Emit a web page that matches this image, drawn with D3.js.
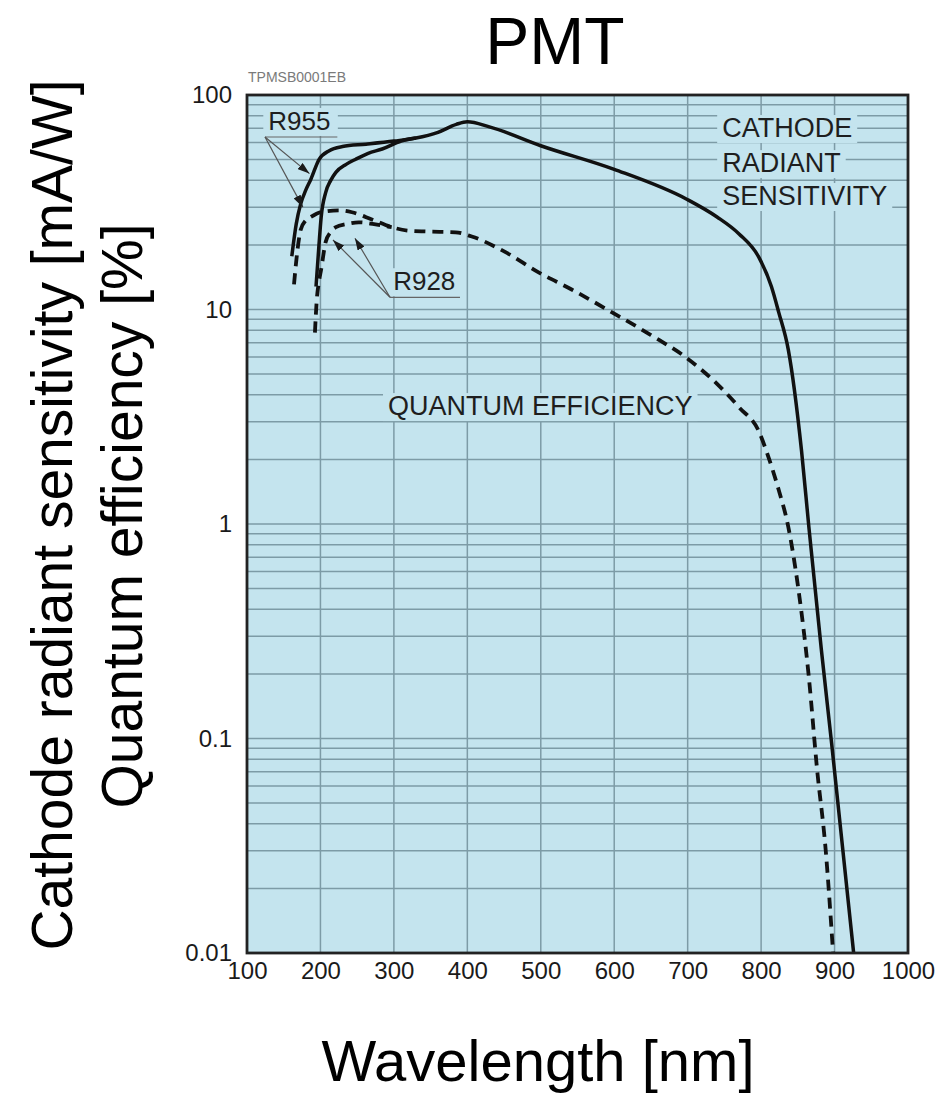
<!DOCTYPE html>
<html>
<head>
<meta charset="utf-8">
<script src="https://cdn.jsdelivr.net/npm/d3@7"></script>
<style>
  body { margin: 0; background: #fff; }
  svg { display: block; font-family: "Liberation Sans", Arial, Helvetica, sans-serif; }
</style>
</head>
<body>
<script>
// Chart data
const wavelengthTicks = [100, 200, 300, 400, 500, 600, 700, 800, 900, 1000];
const decadeTicks = [0.01, 0.1, 1, 10, 100];
const decadeLabels = ['0.01', '0.1', '1', '10', '100'];

// cathode radiant sensitivity [mA/W], [wavelength nm, value]
const cathodeR955 = [
  [161, 17.7], [167, 25], [173, 31], [180, 36], [187, 40.5], [198, 50], [212, 55],
  [230, 57.5], [262, 59], [300, 61], [330, 63], [360, 67], [385, 73], [400, 75],
  [430, 71], [500, 58], [600, 45], [700, 32.5], [740, 27], [770, 22.5], [797, 17.5],
  [814, 12.8], [824, 9.7], [837, 6.5], [855, 2.2], [865, 0.97], [882, 0.26],
  [896, 0.095], [926, 0.01]
];
const cathodeR928 = [
  [194, 12.8], [198, 20], [201, 27], [207, 35], [214, 40], [221, 43.6], [235, 47.5],
  [248, 50.2], [265, 53.5], [284, 56], [310, 61], [330, 63]
];

// quantum efficiency [%]
const qeR955 = [
  [164, 13.1], [168, 18], [173, 23.5], [180, 26], [187, 27], [202, 28.5], [225, 29],
  [243, 28.4], [270, 26.3], [297, 24.2], [320, 23.3], [344, 23.1], [384, 22.9],
  [406, 21.9], [452, 18.5], [497, 14.9], [542, 12.4], [597, 9.7], [650, 7.6],
  [700, 5.9], [740, 4.5], [770, 3.5], [797, 2.7], [810, 2.05], [824, 1.44],
  [837, 0.97], [851, 0.49], [865, 0.193], [876, 0.073], [888, 0.03], [898, 0.01]
];
const qeR928 = [
  [192.5, 7.8], [195, 11.1], [198, 13.5], [201, 15.4], [207, 20.6], [214, 23],
  [221, 24.2], [235, 25], [252, 25.5], [273, 25], [297, 24.2]
];

// annotations, placed in data units
const r955Label = { text: 'R955', at: [129, 68.7], from: [124.5, 63.7], to: [223, 63.7],
  arrows: [[185, 43], [176, 30]] };
const r928Label = { text: 'R928', at: [299, 12.3], from: [294.7, 11.4], to: [390, 11.4],
  arrows: [[217, 21.1], [247, 21.5]] };
const cathodeLabel = { lines: ['CATHODE', 'RADIANT', 'SENSITIVITY'], at: [747, [63.7, 43.7, 30.7]] };
const qeLabel = { text: 'QUANTUM EFFICIENCY', at: [292, 3.22] };

const width = 936;
const height = 1095;
const plot = { left: 247, right: 908, top: 95, bottom: 953 };

const svg = d3.select('body').append('svg')
  .attr('width', width)
  .attr('height', height);

const x = d3.scaleLinear().domain([100, 1000]).range([plot.left, plot.right]);
const y = d3.scaleLog().domain([0.01, 100]).range([plot.bottom, plot.top]);

const defs = svg.append('defs');
defs.append('marker')
  .attr('id', 'arrow')
  .attr('viewBox', '0 0 12 8')
  .attr('refX', 12).attr('refY', 4)
  .attr('markerWidth', 12).attr('markerHeight', 8)
  .attr('markerUnits', 'userSpaceOnUse')
  .attr('orient', 'auto')
  .append('path')
  .attr('d', 'M0,0L12,4L0,8Z')
  .attr('fill', '#1a1a1a');

// plot background
svg.append('rect')
  .attr('x', plot.left).attr('y', plot.top)
  .attr('width', plot.right - plot.left)
  .attr('height', plot.bottom - plot.top)
  .attr('fill', '#c4e4ee');

// grid
const gridColor = '#7d9ba6';
svg.append('g')
  .selectAll('line')
  .data(wavelengthTicks.slice(1, -1))
  .join('line')
  .attr('x1', d => x(d)).attr('x2', d => x(d))
  .attr('y1', plot.top).attr('y2', plot.bottom)
  .attr('stroke', gridColor).attr('stroke-width', 1.5);

svg.append('g')
  .selectAll('line')
  .data(y.ticks().filter(d => d > 0.01 && d < 100))
  .join('line')
  .attr('x1', plot.left).attr('x2', plot.right)
  .attr('y1', d => y(d)).attr('y2', d => y(d))
  .attr('stroke', gridColor).attr('stroke-width', 1.5);

// label layer: background patches hide grid under the text
const bgLayer = svg.append('g');
const curveLayer = svg.append('g');
const textLayer = svg.append('g')
  .attr('fill', '#1e1e1e')
  .style('font-size', '27px');

function addLabel(str, pos) {
  const t = textLayer.append('text')
    .attr('x', x(pos[0]))
    .attr('y', y(pos[1]))
    .text(str);
  const b = t.node().getBBox();
  bgLayer.append('rect')
    .attr('x', b.x - 5).attr('y', b.y + 2)
    .attr('width', b.width + 10).attr('height', b.height - 2)
    .attr('fill', '#c4e4ee');
  return t;
}

addLabel(r955Label.text, r955Label.at).style('font-size', '26px');
addLabel(r928Label.text, r928Label.at).style('font-size', '26px');
cathodeLabel.lines.forEach((s, i) => addLabel(s, [cathodeLabel.at[0], cathodeLabel.at[1][i]]));
addLabel(qeLabel.text, qeLabel.at);

// curves
const line = d3.line()
  .x(d => x(d[0]))
  .y(d => y(d[1]))
  .curve(d3.curveMonotoneX);

[cathodeR955, cathodeR928].forEach(data => {
  curveLayer.append('path')
    .attr('d', line(data))
    .attr('fill', 'none')
    .attr('stroke', '#111')
    .attr('stroke-width', 3.5);
});

[qeR955, qeR928].forEach(data => {
  curveLayer.append('path')
    .attr('d', line(data))
    .attr('fill', 'none')
    .attr('stroke', '#111')
    .attr('stroke-width', 3.8)
    .attr('stroke-dasharray', '11,7');
});

// leader lines with arrowheads
[r955Label, r928Label].forEach(lab => {
  curveLayer.append('line')
    .attr('x1', x(lab.from[0])).attr('y1', y(lab.from[1]))
    .attr('x2', x(lab.to[0])).attr('y2', y(lab.to[1]))
    .attr('stroke', '#666').attr('stroke-width', 1.2);
  lab.arrows.forEach(a => {
    curveLayer.append('line')
      .attr('x1', x(lab.from[0])).attr('y1', y(lab.from[1]))
      .attr('x2', x(a[0])).attr('y2', y(a[1]))
      .attr('stroke', '#555').attr('stroke-width', 1.2)
      .attr('marker-end', 'url(#arrow)');
  });
});

// frame
svg.append('rect')
  .attr('x', plot.left).attr('y', plot.top)
  .attr('width', plot.right - plot.left)
  .attr('height', plot.bottom - plot.top)
  .attr('fill', 'none')
  .attr('stroke', '#222')
  .attr('stroke-width', 2.8);

// axes
const xAxis = svg.append('g')
  .attr('transform', `translate(0, ${plot.bottom + 6})`)
  .call(d3.axisBottom(x).tickValues(wavelengthTicks).tickSize(0).tickFormat(d3.format('d')));
xAxis.select('.domain').remove();
xAxis.selectAll('text')
  .attr('fill', '#1a1a1a')
  .style('font-family', '"Liberation Sans", Arial, sans-serif')
  .style('font-size', '24px');

const yAxis = svg.append('g')
  .attr('transform', `translate(${plot.left - 12}, 0)`)
  .call(d3.axisLeft(y).tickValues(decadeTicks).tickSize(0)
    .tickFormat((d, i) => decadeLabels[i]));
yAxis.select('.domain').remove();
yAxis.selectAll('text')
  .attr('fill', '#1a1a1a')
  .style('font-family', '"Liberation Sans", Arial, sans-serif')
  .style('font-size', '24px');

// datasheet code
svg.append('text')
  .attr('x', plot.left + 1)
  .attr('y', plot.top - 13)
  .attr('fill', '#7a7a7a')
  .style('font-size', '14px')
  .text('TPMSB0001EB');

// titles
svg.append('text')
  .attr('x', 555)
  .attr('y', 64)
  .attr('text-anchor', 'middle')
  .style('font-size', '66px')
  .text('PMT');

svg.append('text')
  .attr('x', 538)
  .attr('y', 1081)
  .attr('text-anchor', 'middle')
  .style('font-size', '58px')
  .text('Wavelength [nm]');

svg.append('text')
  .attr('transform', 'translate(72, 515) rotate(-90)')
  .attr('text-anchor', 'middle')
  .style('font-size', '57px')
  .text('Cathode radiant sensitivity [mA/W]');

svg.append('text')
  .attr('transform', 'translate(142, 516) rotate(-90)')
  .attr('text-anchor', 'middle')
  .style('font-size', '57px')
  .text('Quantum efficiency [%]');
</script>
</body>
</html>
